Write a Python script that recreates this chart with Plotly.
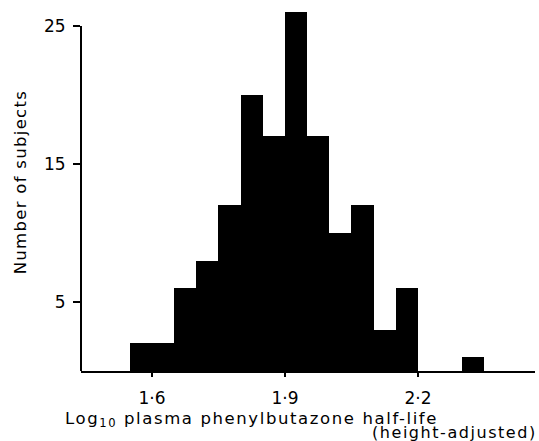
import plotly.graph_objects as go

# Histogram data (bin left edges, width 0.05) and counts
bin_left = [1.55, 1.60, 1.65, 1.70, 1.75, 1.80, 1.85, 1.90, 1.95, 2.00, 2.05, 2.10, 2.15, 2.30]
counts = [2, 2, 6, 8, 12, 20, 17, 26, 17, 10, 12, 3, 6, 1]
bin_width = 0.05

x_tickvals = [1.6, 1.9, 2.2]
x_ticktext = ["1·6", "1·9", "2·2"]
y_tickvals = [5, 15, 25]
y_ticktext = ["5", "15", "25"]

FONT = "DejaVu Sans"

centers = [b + bin_width / 2 for b in bin_left]

fig = go.Figure()
fig.add_trace(go.Bar(
    x=centers, y=counts, width=bin_width,
    marker=dict(color="black", line=dict(width=0)),
    hoverinfo="skip",
))

fig.update_layout(
    width=539, height=441,
    margin=dict(l=81, r=4, t=0, b=70),
    paper_bgcolor="white", plot_bgcolor="white",
    showlegend=False,
    bargap=0,
    font=dict(family=FONT, color="black", size=17),
)
fig.update_xaxes(
    range=[1.44, 2.464],
    tickvals=x_tickvals, ticktext=x_ticktext,
    ticks="outside", ticklen=4, tickwidth=2, tickcolor="black",
    showline=True, linecolor="black", linewidth=2,
    showgrid=False, zeroline=False,
    ticklabelstandoff=7,
    tickfont=dict(family=FONT, size=17),
)
fig.update_yaxes(
    range=[0, 26.88],
    tickvals=y_tickvals, ticktext=y_ticktext,
    ticks="outside", ticklen=7, tickwidth=2, tickcolor="black",
    showline=False, showgrid=False, zeroline=False,
    ticklabelstandoff=4,
    tickfont=dict(family=FONT, size=17),
)
# y-axis line only up to the top tick (25)
fig.add_shape(type="line", xref="paper", yref="y",
              x0=0, x1=0, y0=0, y1=25,
              line=dict(color="black", width=2))

fig.add_annotation(
    text='<span style="letter-spacing:1.6px">Log<sub>10</sub> plasma phenylbutazone half-life</span>',
    xref="paper", yref="paper", x=-0.0396, y=-0.1294,
    xanchor="left", yanchor="middle", showarrow=False,
    font=dict(family=FONT, size=16.5),
)
fig.add_annotation(
    text='<span style="letter-spacing:1.55px">(height-adjusted)</span>',
    xref="paper", yref="paper", x=1.009, y=-0.166,
    xanchor="right", yanchor="middle", showarrow=False,
    font=dict(family=FONT, size=16),
)
fig.add_annotation(
    text='<span style="letter-spacing:1.3px">Number of subjects</span>',
    xref="paper", yref="paper", x=-0.134, y=0.509,
    xanchor="center", yanchor="middle", textangle=-90, showarrow=False,
    font=dict(family=FONT, size=16.5),
)

fig.write_html("out.html")
